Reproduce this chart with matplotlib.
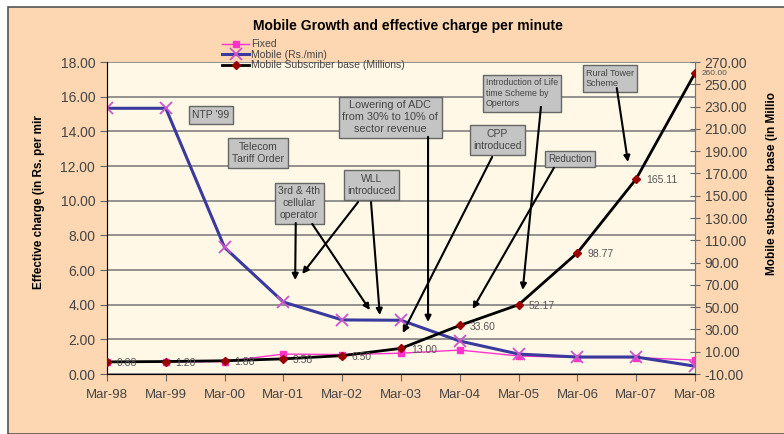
import matplotlib
matplotlib.use("Agg")
import matplotlib.pyplot as plt
from matplotlib.patches import Rectangle
from matplotlib.ticker import FormatStrFormatter

plt.rcParams['font.family'] = ['Liberation Sans', 'DejaVu Sans']

# data
years = ["Mar-98", "Mar-99", "Mar-00", "Mar-01", "Mar-02", "Mar-03",
         "Mar-04", "Mar-05", "Mar-06", "Mar-07", "Mar-08"]
fixed = [0.70, 0.70, 0.72, 1.15, 1.12, 1.20, 1.38, 1.04, 0.95, 0.95, 0.80]
mobile = [15.33, 15.33, 7.30, 4.15, 3.12, 3.10, 1.90, 1.15, 0.98, 0.98, 0.45]
subscribers = [0.88, 1.20, 1.88, 3.58, 6.50, 13.00, 33.60, 52.17, 98.77, 165.11, 260.00]
sub_labels = ["0.88", "1.20", "1.88", "3.58", "6.50", "13.00", "33.60",
              "52.17", "98.77", "165.11", "260.00"]

left_ticks = [0, 2, 4, 6, 8, 10, 12, 14, 16, 18]
right_ticks = list(range(-10, 271, 20))

# annotation boxes: (text, x, y, align, fontsize)  -- in left-axis coords
boxes = [
    ("NTP '99", 1.77, 14.94, "center", 7.5),
    ("Telecom\nTariff Order", 2.57, 12.75, "center", 7.5),
    ("3rd & 4th\ncellular\noperator", 3.27, 9.85, "center", 7.5),
    ("WLL\nintroduced", 4.50, 10.9, "center", 7.5),
    ("Lowering of ADC\nfrom 30% to 10% of\nsector revenue", 4.82, 14.8, "center", 7.8),
    ("CPP\nintroduced", 6.64, 13.5, "center", 7.5),
    ("Introduction of Life\ntime Scheme by\nOpertors", 7.06, 16.2, "left", 6.3),
    ("Reduction", 7.87, 12.4, "center", 7.0),
    ("Rural Tower\nScheme", 8.55, 17.05, "left", 6.5),
]
arrows = [
    ((3.21, 8.71), (3.20, 5.42)),
    ((3.49, 8.66), (4.47, 3.69)),
    ((4.27, 9.92), (3.32, 5.77)),
    ((4.49, 9.92), (4.64, 3.40)),
    ((5.46, 13.68), (5.46, 3.00)),
    ((6.55, 12.52), (5.03, 2.37)),
    ((7.38, 15.41), (7.07, 4.85)),
    ((7.60, 11.89), (6.22, 3.75)),
    ((8.67, 16.50), (8.86, 12.23)),
]


def main():
    fig = plt.figure(figsize=(7.84, 4.34), dpi=100)
    fig.patch.set_facecolor("white")
    fig.patches.append(Rectangle((8 / 784, 0), 1, 1 - 7 / 434, transform=fig.transFigure,
                                 facecolor="#FDD7B2", edgecolor="#555555", lw=1.2, zorder=-10))

    ax = fig.add_axes([107 / 784, 1 - 374 / 434, 588 / 784, 312 / 434])
    ax.set_facecolor("#FFF8E6")
    x = list(range(len(years)))

    ax.plot(x, fixed, color="#FF33CC", lw=1.0, marker="s", ms=4, label="Fixed", zorder=3)
    ax.plot(x, mobile, color="#3A3A9E", lw=2.2, marker="x", ms=8, mec="#CC55CC", mew=1.3,
            label="Mobile (Rs./min)", zorder=4)
    ax.set_xlim(0, 10)
    ax.set_ylim(0, 18)
    ax.set_yticks(left_ticks)
    ax.yaxis.set_major_formatter(FormatStrFormatter("%.2f"))
    ax.set_xticks(x)
    ax.set_xticklabels(years)
    ax.grid(axis="y", color="#808080", lw=1.2)
    ax.set_axisbelow(True)
    ax.tick_params(axis="both", colors="#666666", labelcolor="#444444", labelsize=10,
                   direction="out", length=5)
    ax.tick_params(axis="x", labelsize=9.5, pad=6)
    for s in ["left", "bottom"]:
        ax.spines[s].set_color("#777777")
    ax.spines["top"].set_visible(False)
    ax.spines["right"].set_color("#777777")

    ax2 = ax.twinx()
    ax2.plot(x, subscribers, color="black", lw=2.0, marker="D", ms=4.5, mfc="#990000",
             mec="#990000", label="Mobile Subscriber base (Millions)", zorder=5)
    ax2.set_ylim(-10, 270)
    ax2.set_yticks(right_ticks)
    ax2.yaxis.set_major_formatter(FormatStrFormatter("%.2f"))
    ax2.tick_params(axis="y", colors="#666666", labelcolor="#444444", labelsize=10,
                    direction="inout", length=7)
    ax2.spines["top"].set_visible(False)
    ax2.spines["right"].set_color("#777777")

    for xi, yi, lab in zip(x[:-1], subscribers[:-1], sub_labels[:-1]):
        ax2.annotate(lab, (xi, yi), xytext=(7, -1), textcoords="offset points",
                     fontsize=7.5, color="#555555", va="center", zorder=6)
    # last label squeezed between the 270 and 250 tick labels, as in the original
    ax2.annotate(sub_labels[-1], (x[-1], subscribers[-1]), xytext=(5, -0.5),
                 textcoords="offset points", fontsize=6, color="#555555",
                 va="center", annotation_clip=False, zorder=6)

    for txt, bx, by, al, fs in boxes:
        ax2.text(bx, by, txt, transform=ax.transData, ha="center", va="center",
                 multialignment=al, fontsize=fs, color="#444444", linespacing=1.25, zorder=7,
                 bbox=dict(boxstyle="square,pad=0.35", fc="#C4C4C4", ec="#666666", lw=1.0))

    for (x0, y0), (x1, y1) in arrows:
        ax2.annotate("", xy=(x1, y1), xytext=(x0, y0), xycoords=ax.transData,
                     textcoords=ax.transData, zorder=8,
                     arrowprops=dict(arrowstyle="-|>", color="black", lw=1.5,
                                     mutation_scale=9, shrinkA=0, shrinkB=0))

    ax.set_ylabel("Effective charge (in Rs. per mir", fontsize=8.5, fontweight="bold")
    ax.yaxis.set_label_coords(-0.105, 0.55)
    ax2.set_ylabel("Mobile subscriber base (in Millio", fontsize=8.5, fontweight="bold",
                   rotation=90)
    ax2.yaxis.set_label_coords(1.12, 0.61)

    fig.text(0.52, 0.94, "Mobile Growth and effective charge per minute",
             ha="center", va="center", fontsize=10, fontweight="bold")

    h1, l1 = ax.get_legend_handles_labels()
    h2, l2 = ax2.get_legend_handles_labels()
    fig.legend(h1 + h2, l1 + l2, loc="upper left", bbox_to_anchor=(218 / 784, 1 - 35 / 434),
               frameon=False, fontsize=7.5, labelspacing=0.05, handlelength=2.6,
               handletextpad=0.2, borderaxespad=0, labelcolor="#444444")

    fig.savefig("out.png", dpi=100)


if __name__ == "__main__":
    main()
